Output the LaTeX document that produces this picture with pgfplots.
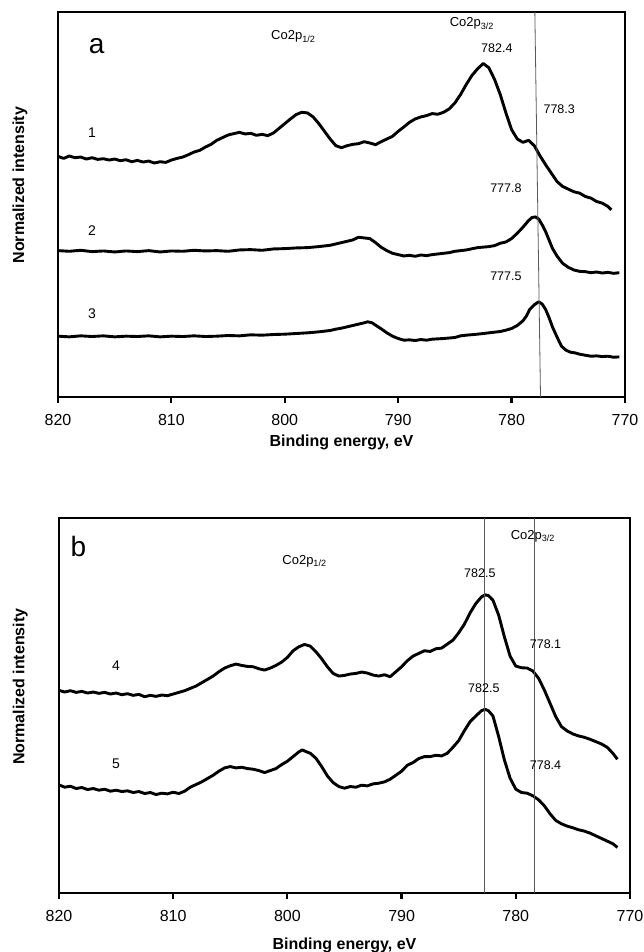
\documentclass[border=0pt]{standalone}
\usepackage{fontspec}
\setmainfont{Liberation Sans}
\usepackage{pgfplots}
\pgfplotsset{compat=1.18}
\pgfplotsset{
  xpsstyle/.style={
    scale only axis,
    x dir=reverse,
    xmin=770, xmax=820,
    xtick={770,780,...,820},
    ytick=\empty,
    axis line style={line width=2.5pt},
    tick pos=bottom,
    tick align=outside,
    major tick length=6pt,
    every tick/.style={black, line width=2.2pt},
    /pgf/number format/assume math mode=true,
    xticklabel style={font=\fontsize{16}{19}\selectfont, yshift=-8pt},
    label style={font=\bfseries\fontsize{16}{19}\selectfont},
    ylabel={Normalized intensity},
    xlabel={Binding energy, eV},
    clip=false,
  },
  curve/.style={black, line width=2.9pt, line join=round, no marks},
  refline/.style={black!65, line width=0.8pt, no marks},
}
\tikzset{
  ann/.style={font=\fontsize{12.5}{14}\selectfont, inner sep=0pt},
  co/.style={font=\fontsize{13}{15}\selectfont, inner sep=0pt},
  num/.style={font=\fontsize{14}{16}\selectfont, inner sep=0pt},
  big/.style={font=\fontsize{28}{32}\selectfont, inner sep=0pt},
}
\begin{document}
\begin{tikzpicture}
\useasboundingbox (0,0) rectangle (644pt,-952pt);
% ---------------- panel a ----------------
\begin{axis}[xpsstyle,
  at={(58pt,-397pt)}, anchor=south west,
  width=567pt, height=385pt,
  ymin=0, ymax=1152,
  ylabel style={at={(axis description cs:-0.067,0.55)}, anchor=center},
  xlabel style={at={(axis description cs:0.5,-0.117)}, anchor=center},
]
\addplot[curve] coordinates {
(820,720)(819.5,714)(819,721)(818.5,716)(818,718)(817.5,712)(817,716)(816.5,711)(816,713)(815.5,709)
(815,712)(814.5,707)(814,710)(813.5,704)(813,708)(812.5,703)(812,706)(811.5,700)(811,704)(810.5,702)
(810,709)(809.5,714)(809,718)(808.5,725)(808,733)(807.5,738)(807,748)(806.5,756)(806,768)(805.5,776)
(805,784)(804.5,788)(804,792)(803.5,787)(803,789)(802.5,783)(802,786)(801.5,782)(801,790)(800.5,804)
(800,818)(799.5,832)(799,845)(798.5,852)(798,850)(797.5,838)(797,818)(796.5,795)(796,772)(795.5,752)
(795,746)(794.5,752)(794,756)(793.5,758)(793,764)(792.5,760)(792,755)(791.5,764)(791,772)(790.5,780)
(790,795)(789.5,808)(789,822)(788.5,832)(788,838)(787.5,842)(787,848)(786.5,846)(786,852)(785.5,862)
(785,880)(784.5,905)(784,935)(783.5,962)(783,982)(782.5,998)(782,985)(781.5,950)(781,905)(780.5,850)
(780,800)(779.5,772)(779,762)(778.5,768)(778,752)(777.5,722)(777,695)(776.5,670)(776,645)(775.5,630)
(775,622)(774.5,614)(774,610)(773.5,600)(773,595)(772.5,585)(772,580)(771.5,570)(771.2,560)
};
\addplot[curve] coordinates {
(820,438)(819,436)(818,439)(817,435)(816,437)(815,434)(814,437)(813,435)(812,438)(811,434)
(810,437)(809,436)(808,439)(807,437)(806,438)(805,436)(804,440)(803,441)(802,439)(801,443)
(800,444)(799,446)(798,447)(797,450)(796,454)(795.5,458)(795,462)(794.5,466)(794,470)(793.5,478)
(793,476)(792.5,474)(792,462)(791.5,448)(791,438)(790.5,430)(790,426)(789.5,422)(789,424)(788.5,421)
(788,425)(787.5,423)(787,426)(786.5,428)(786,430)(785.5,432)(785,436)(784,440)(783,447)(782,450)
(781.5,453)(781,460)(780.5,464)(780,474)(779.5,490)(779,508)(778.5,528)(778.2,537)(777.9,539)(777.6,532)
(777.3,515)(777,495)(776.7,470)(776.4,445)(776,422)(775.5,400)(775,388)(774.5,380)(774,376)(773.5,375)
(773,372)(772.5,374)(772,371)(771.5,373)(771,370)(770.5,372)
};
\addplot[curve] coordinates {
(820,182)(819,180)(818,183)(817,181)(816,183)(815,180)(814,182)(813,181)(812,183)(811,180)
(810,182)(809,181)(808,183)(807,181)(806,182)(805,184)(804,183)(803,186)(802,185)(801,187)
(800,188)(799,190)(798,192)(797,195)(796,199)(795.5,203)(795,206)(794.5,210)(794,214)(793.5,218)
(793,222)(792.7,225)(792.3,222)(792,215)(791.5,204)(791,192)(790.5,182)(790,175)(789.5,170)(789,171)
(788.5,169)(788,172)(787.5,170)(787,173)(786,175)(785,178)(784.5,183)(784,185)(783,188)(782,192)
(781.5,194)(781,196)(780.5,200)(780,205)(779.5,214)(779,228)(778.7,242)(778.4,262)(778,276)(777.6,285)
(777.3,278)(777,262)(776.7,238)(776.4,210)(776,180)(775.6,152)(775.2,140)(774.8,134)(774.4,132)(774,128)
(773.5,125)(773,122)(772.5,123)(772,121)(771.5,122)(771,119)(770.5,120)
};
\addplot[refline] coordinates {(777.95,1152) (777.45,0)};
\node[big] at (axis cs:816.6,1050) {a};
\node[co] at (axis cs:799.25,1078) {Co2p\textsubscript{1/2}};
\node[co] at (axis cs:783.5,1118) {Co2p\textsubscript{3/2}};
\node[ann] at (axis cs:781.3,1045) {782.4};
\node[ann] at (axis cs:775.8,862) {778.3};
\node[ann] at (axis cs:780.5,625) {777.8};
\node[ann] at (axis cs:780.5,360) {777.5};
\node[num] at (axis cs:817.0,790) {1};
\node[num] at (axis cs:817.0,497) {2};
\node[num] at (axis cs:817.0,250) {3};
\end{axis}
% ---------------- panel b ----------------
\begin{axis}[xpsstyle,
  at={(59pt,-893pt)}, anchor=south west,
  width=571pt, height=375pt,
  ymin=0, ymax=1127,
  ylabel style={at={(axis description cs:-0.068,0.55)}, anchor=center},
  xlabel style={at={(axis description cs:0.5,-0.139)}, anchor=center},
]
\addplot[curve] coordinates {
(820,609)(819.5,604)(819,608)(818.5,603)(818,606)(817.5,601)(817,604)(816.5,600)(816,603)(815.5,598)
(815,601)(814.5,596)(814,599)(813.5,594)(813,597)(812.5,590)(812,594)(811.5,591)(811,595)(810.5,593)
(810,598)(809.5,603)(809,608)(808.5,615)(808,622)(807.5,632)(807,642)(806.5,652)(806,665)(805.5,676)
(805,683)(804.5,688)(804,684)(803.5,681)(803,680)(802.5,674)(802,670)(801.5,676)(801,684)(800.5,694)
(800,708)(799.5,728)(799,740)(798.5,747)(798,742)(797.5,725)(797,704)(796.5,680)(796,660)(795.5,652)
(795,654)(794.5,658)(794,660)(793.5,664)(793,661)(792.5,655)(792,652)(791.5,656)(791,650)(790.5,665)
(790,680)(789.5,698)(789,712)(788.5,720)(788,728)(787.5,726)(787,734)(786.5,736)(786,748)(785.5,760)
(785,782)(784.5,808)(784,842)(783.5,870)(783,890)(782.7,896)(782.4,894)(782,880)(781.5,835)(781,770)
(780.5,712)(780,682)(779.5,677)(779,676)(778.5,667)(778,645)(777.5,610)(777,570)(776.5,530)(776,500)
(775.5,487)(775,478)(774.5,472)(774,468)(773.5,462)(773,455)(772.5,448)(772,438)(771.5,420)(771.1,402)
};
\addplot[curve] coordinates {
(820,325)(819.5,318)(819,321)(818.5,314)(818,317)(817.5,311)(817,314)(816.5,309)(816,312)(815.5,306)
(815,309)(814.5,305)(814,307)(813.5,302)(813,305)(812.5,299)(812,302)(811.5,296)(811,300)(810.5,298)
(810,303)(809.5,299)(809,306)(808.5,318)(808,326)(807.5,334)(807,344)(806.5,354)(806,366)(805.5,376)
(805,380)(804.5,376)(804,378)(803.5,374)(803,372)(802.5,368)(802,362)(801.5,368)(801,374)(800.5,386)
(800,396)(799.5,410)(799,424)(798.7,430)(798.3,424)(798,420)(797.5,405)(797,380)(796.5,352)(796,332)
(795.5,320)(795,315)(794.5,320)(794,318)(793.5,324)(793,322)(792.5,328)(792,330)(791.5,334)(791,342)
(790.5,354)(790,366)(789.5,384)(789,392)(788.5,404)(788,410)(787.5,410)(787,414)(786.5,412)(786,420)
(785.5,438)(785,458)(784.5,488)(784,515)(783.5,532)(783,548)(782.7,552)(782.4,548)(782,532)(781.5,470)
(781,400)(780.5,345)(780,312)(779.5,302)(779,300)(778.5,292)(778,280)(777.5,262)(777,238)(776.5,218)
(776,208)(775.5,201)(775,196)(774.5,190)(774,186)(773.5,180)(773,172)(772.5,164)(772,156)(771.5,148)(771.1,137)
};
\addplot[refline] coordinates {(782.76,1127) (782.76,0)};
\addplot[refline] coordinates {(778.38,1127) (778.38,0)};
\node[big] at (axis cs:818.3,1042) {b};
\node[co] at (axis cs:798.5,997) {Co2p\textsubscript{1/2}};
\node[co] at (axis cs:778.5,1072) {Co2p\textsubscript{3/2}};
\node[ann] at (axis cs:783.15,962) {782.5};
\node[ann] at (axis cs:777.4,747) {778.1};
\node[ann] at (axis cs:782.8,617) {782.5};
\node[ann] at (axis cs:777.4,385) {778.4};
\node[num] at (axis cs:815.0,682) {4};
\node[num] at (axis cs:815.0,389) {5};
\end{axis}
\end{tikzpicture}
\end{document}
